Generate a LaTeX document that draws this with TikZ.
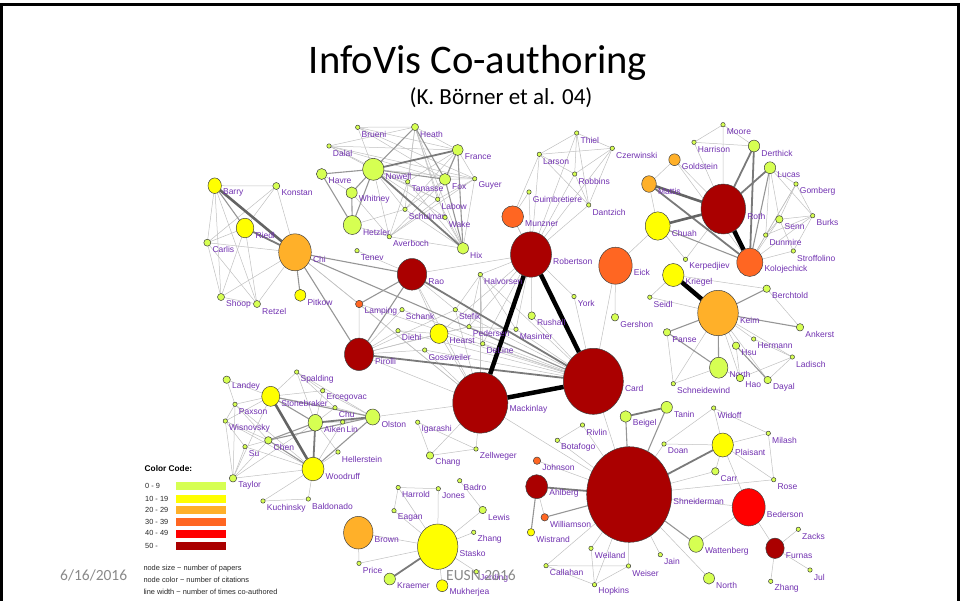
\documentclass[tikz,border=0pt]{standalone}
\usepackage{fontspec}
\setmainfont{Liberation Sans}
\newfontfamily\slidefont{Carlito}
\usetikzlibrary{shapes.geometric,backgrounds}

\definecolor{cLG}{RGB}{214,255,82}
\definecolor{cY}{RGB}{255,255,0}
\definecolor{cO}{RGB}{255,176,41}
\definecolor{cDO}{RGB}{255,102,34}
\definecolor{cR}{RGB}{255,0,0}
\definecolor{cDR}{RGB}{170,0,0}
\definecolor{labcol}{RGB}{112,48,176}
\definecolor{eA}{RGB}{192,192,192}
\definecolor{eB}{RGB}{150,150,150}
\definecolor{eC}{RGB}{122,122,122}
\definecolor{eD}{RGB}{100,100,100}
\definecolor{footgray}{RGB}{137,137,137}

\tikzset{
  anode/.style={ellipse, draw=black!75, line width=0.5pt, inner sep=0pt, outer sep=0pt},
  alab/.style={anchor=west, inner sep=0pt, text=labcol, font=\fontsize{8.5}{10}\selectfont},
  ea/.style={draw=eA, line width=0.5pt},
  eb/.style={draw=eB, line width=1.1pt},
  ec/.style={draw=eC, line width=1.8pt},
  ed/.style={draw=eD, line width=2.6pt},
  ee/.style={draw=black, line width=4.5pt},
  legbar/.style={draw=white, line width=0.6pt, minimum width=51pt, minimum height=9pt, inner sep=0pt},
  legtxt/.style={anchor=west, inner sep=0pt, text=black!85, font=\fontsize{7.4}{9}\selectfont},
}

% author node: name, x, y, rx, ry, colour, label
\newcommand\au[7]{%
  \node[anode, fill=#6, minimum width=#4*2pt, minimum height=#5*2pt] (#1) at (#2,#3) {};
  \node[alab] (#1-l) at ([xshift=#4pt+1.5pt, yshift=-7pt]#1.center) {#7};
}
% tiny author node (one or two papers)
\newcommand\tinyau[4]{\au{#1}{#2}{#3}{2.2}{2.2}{cLG}{#4}}

\begin{document}
\begin{tikzpicture}[x=1pt,y=-1pt]
\useasboundingbox (0,0) rectangle (961,600);
\draw[line width=2.7pt] (1.4,602) -- (1.4,4.7) -- (958.7,4.7) -- (958.7,602);

% titles
\node[font=\slidefont\fontsize{40.6}{48}\selectfont, anchor=base, inner sep=0pt] (title) at (478,73) {InfoVis Co-authoring};
\node[font=\slidefont\fontsize{23}{28}\selectfont, anchor=base, inner sep=0pt] (subtitle) at (501,104) {(K. Börner et al. 04)};

% ---- cluster around Nowell
\tinyau{brueni}{357.7}{127.3}{Brueni}
\au{heath}{415}{127}{3.5}{3.5}{cLG}{Heath}
\tinyau{dalal}{329}{146}{Dalal}
\au{france}{457.7}{150}{5.5}{5.5}{cLG}{France}
\au{nowell}{373.3}{169.3}{10.7}{11}{cLG}{Nowell}
\au{havre}{321.7}{174}{5.3}{5.5}{cLG}{Havre}
\au{fox}{445}{179.3}{5.5}{5.8}{cLG}{Fox}
\tinyau{guyer}{474.7}{178.7}{Guyer}
\tinyau{tanasse}{407.7}{181.7}{Tanasse}
\au{whitney}{351.7}{192.7}{5.5}{5.8}{cLG}{Whitney}
\tinyau{labow}{437.7}{199.3}{Labow}
\tinyau{schulman}{405}{209.3}{Schulman}
\tinyau{wake}{445}{217.3}{Wake}
\au{hetzler}{352.3}{225}{9}{9.5}{cLG}{Hetzler}
\tinyau{averboch}{389.3}{236.7}{Averboch}
\au{hix}{463}{248.3}{5.5}{5.8}{cLG}{Hix}
\tinyau{tenev}{357}{250.7}{Tenev}

% ---- cluster around Chi
\au{barry}{214.7}{185.7}{6.7}{7.8}{cY}{Barry}
\au{konstan}{276.3}{186}{3.5}{3.5}{cLG}{Konstan}
\au{riedl}{245}{228}{8.8}{9.8}{cY}{Riedl}
\au{carlis}{207.3}{242.7}{3.5}{3.5}{cLG}{Carlis}
\au{chi}{295}{252.3}{16.3}{18.5}{cO}{Chi}
\au{pitkow}{300.3}{295.3}{5.5}{6}{cY}{Pitkow}
\au{shoop}{221}{297}{3.5}{3.5}{cLG}{Shoop}
\au{retzel}{257}{304}{3.5}{3.5}{cLG}{Retzel}

% ---- central PARC cluster
\au{rao}{412}{274.3}{14.7}{15.8}{cDR}{Rao}
\tinyau{halvorsen}{480.3}{274.5}{Halvorsen}
\au{robertson}{531}{254.5}{20.5}{22.7}{cDR}{Robertson}
\au{munzner}{512.7}{216.7}{10.8}{10.8}{cDO}{Munzner}
\au{eick}{615.5}{265.7}{16.7}{18.5}{cDO}{Eick}
\tinyau{york}{574}{296.5}{York}
\au{lamping}{359.2}{304}{3.7}{3.7}{cDO}{Lamping}
\tinyau{schank}{402}{309.7}{Schank}
\tinyau{stefik}{455.3}{309.7}{Stefik}
\au{rushall}{531.7}{315.7}{3.7}{3.9}{cLG}{Rushall}
\au{gershon}{615}{317.3}{3.7}{3.7}{cLG}{Gershon}
\tinyau{pedersen}{469}{326.7}{Pedersen}
\tinyau{masinter}{516}{329.3}{Masinter}
\tinyau{diehl}{398}{330.7}{Diehl}
\au{hearst}{439}{333.7}{9}{9.7}{cY}{Hearst}
\tinyau{deline}{482.7}{343.7}{DeLine}
\tinyau{gossweiler}{424.7}{350}{Gossweiler}
\au{pirolli}{359}{354.3}{14.5}{16.2}{cDR}{Pirolli}
\au{mackinlay}{480.3}{402.7}{27.5}{30.5}{cDR}{Mackinlay}
\au{card}{593.3}{381.3}{30}{33}{cDR}{Card}
\au{olston}{372.7}{417}{7.2}{8}{cLG}{Olston}
\tinyau{igarashi}{417.7}{422.2}{Igarashi}
\tinyau{rivlin}{582.5}{425}{Rivlin}

% ---- Microsoft group
\tinyau{thiel}{576.7}{133}{Thiel}
\tinyau{larson}{539.3}{154.3}{Larson}
\tinyau{czerwinski}{612.3}{148.3}{Czerwinski}
\tinyau{robbins}{574.7}{174}{Robbins}
\tinyau{guimbretiere}{529}{192}{Guimbretiere}
\tinyau{dantzich}{588.7}{205}{Dantzich}

% ---- cluster around Roth
\tinyau{moore}{723}{124.7}{Moore}
\tinyau{harrison}{694}{142.3}{Harrison}
\au{derthick}{754}{146}{5.7}{5.9}{cLG}{Derthick}
\au{goldstein}{674.5}{159.7}{5.7}{5.9}{cO}{Goldstein}
\au{lucas}{770}{167.7}{5.7}{5.9}{cLG}{Lucas}
\tinyau{gomberg}{796}{184}{Gomberg}
\au{mattis}{649}{184}{7.3}{8.3}{cO}{Mattis}
\au{roth}{723.3}{209}{22.3}{25}{cDR}{Roth}
\tinyau{burks}{812.7}{215.7}{Burks}
\au{senn}{779.3}{219.3}{3.7}{3.7}{cLG}{Senn}
\au{chuah}{657.7}{226}{12.4}{14.2}{cY}{Chuah}
\tinyau{dunmire}{765.7}{235}{Dunmire}
\tinyau{stroffolino}{793.3}{251}{Stroffolino}
\au{kolojechick}{749.8}{262.3}{13}{14.2}{cDO}{Kolojechick}
\tinyau{kerpedjiev}{685.5}{259.3}{Kerpedjiev}

% ---- cluster around Keim
\au{kriegel}{673.3}{275}{10.7}{11.5}{cY}{Kriegel}
\tinyau{seidl}{649.8}{297.2}{Seidl}
\au{berchtold}{766.7}{288.7}{3.7}{3.7}{cLG}{Berchtold}
\au{keim}{718}{313}{20.3}{22.7}{cO}{Keim}
\au{ankerst}{800}{327.3}{3.7}{3.7}{cLG}{Ankerst}
\au{panse}{667}{332.3}{3.7}{3.7}{cLG}{Panse}
\tinyau{hermann}{753.7}{339}{Hermann}
\au{hsu}{736}{345.7}{3.7}{3.7}{cLG}{Hsu}
\tinyau{ladisch}{792.3}{357}{Ladisch}
\au{neuwirth}{718.7}{367.7}{9.2}{10.5}{cLG}{North}
\au{hao}{740}{378}{3.7}{3.7}{cLG}{Hao}
\au{dayal}{767.7}{380}{3.7}{3.7}{cLG}{Dayal}
\tinyau{schneidewind}{673.3}{383.7}{Schneidewind}

% ---- Berkeley group
\tinyau{spalding}{296.7}{372}{Spalding}
\au{landey}{226.7}{379.7}{3.7}{3.7}{cLG}{Landey}
\au{stonebraker}{270.7}{396.3}{9}{10}{cY}{Stonebraker}
\tinyau{ercegovac}{322.7}{390.7}{Ercegovac}
\tinyau{paxson}{235}{404.3}{Paxson}
\tinyau{chu}{335}{407.7}{Chu}
\au{aiken}{315.3}{422.7}{7.2}{8.3}{cLG}{Aiken}
\tinyau{lin}{342.7}{422}{Lin}
\tinyau{wisnovsky}{225.3}{421}{Wisnovsky}
\au{chen}{268.3}{440.3}{3.7}{3.7}{cLG}{Chen}
\tinyau{su}{245}{446.7}{Su}
\tinyau{hellerstein}{338}{452}{Hellerstein}
\au{woodruff}{313}{469}{11}{11.8}{cY}{Woodruff}
\au{taylor}{233}{478.3}{3.7}{3.7}{cLG}{Taylor}
\tinyau{kuchinsky}{263}{501}{Kuchinsky}
\tinyau{baldonado}{308.3}{499}{Baldonado}

% ---- lower middle
\tinyau{zellweger}{476}{449}{Zellweger}
\au{chang}{430}{455.5}{3.7}{3.7}{cLG}{Chang}
\tinyau{botafogo}{557.3}{440.3}{Botafogo}
\au{johnson}{537}{460.7}{3.7}{3.7}{cDO}{Johnson}
\au{ahlberg}{536.7}{486.7}{11}{12}{cDR}{Ahlberg}
\au{williamson}{544.7}{517.3}{3.7}{3.7}{cDO}{Williamson}
\au{wistrand}{531}{532.3}{3.7}{3.7}{cY}{Wistrand}
\tinyau{harrold}{398.2}{487.5}{Harrold}
\tinyau{jones}{438.3}{488.7}{Jones}
\tinyau{badro}{459.7}{480.7}{Badro}
\tinyau{eagan}{394}{510.7}{Eagan}
\au{lewis}{482.7}{510}{3.7}{3.7}{cLG}{Lewis}
\tinyau{zhangs}{473.7}{532.3}{Zhang}
\au{brown}{358.3}{532.7}{14.7}{16.3}{cO}{Brown}
\au{stasko}{437.7}{546.7}{20.2}{22.7}{cY}{Stasko}
\tinyau{price}{359}{563.3}{Price}
\au{kraemer}{389.7}{579}{5.7}{5.9}{cLG}{Kraemer}
\au{mukherjea}{442.2}{585.7}{5.7}{5.9}{cY}{Mukherjea}
\tinyau{jerding}{476.3}{571.7}{Jerding}

% ---- cluster around Shneiderman
\au{tanin}{666.7}{407.3}{5.7}{5.9}{cLG}{Tanin}
\au{beigel}{625.7}{416.5}{5.5}{5.8}{cLG}{Beigel}
\tinyau{widoff}{713.7}{408}{Widoff}
\tinyau{milash}{768.3}{433.3}{Milash}
\tinyau{doan}{664}{444}{Doan}
\au{plaisant}{722.7}{445}{10.7}{12}{cY}{Plaisant}
\au{carr}{715.3}{471.3}{3.7}{3.7}{cLG}{Carr}
\tinyau{rose}{773.7}{479.7}{Rose}
\au{shneiderman}{629.2}{494.5}{42.5}{47.8}{cDR}{Shneiderman}
\au{bederson}{748.7}{507.3}{16.5}{18.7}{cR}{Bederson}
\tinyau{zacks}{798.3}{529.3}{Zacks}
\au{wattenberg}{696}{544}{7.3}{8.3}{cLG}{Wattenberg}
\au{furnas}{775}{548.3}{9.2}{10.2}{cDR}{Furnas}
\tinyau{weiland}{591}{548.3}{Weiland}
\tinyau{jain}{660.3}{554.7}{Jain}
\tinyau{jul}{810}{570}{Jul}
\tinyau{callahan}{546}{565.7}{Callahan}
\tinyau{weiser}{628.5}{566}{Weiser}
\au{north}{709}{578.3}{5.5}{5.8}{cLG}{North}
\tinyau{zhangf}{770.7}{581.3}{Zhang}
\tinyau{hopkins}{594.5}{584.7}{Hopkins}

% ---- co-authorship links, kept under the nodes
\begin{pgfonlayer}{background}
\foreach \a/\b in {
  brueni/heath, brueni/france, brueni/fox, brueni/guyer, brueni/nowell,
  dalal/heath, dalal/france, dalal/fox, dalal/nowell, dalal/guyer, dalal/labow,
  heath/france, heath/tanasse, heath/labow, heath/hix, heath/wake, heath/schulman,
  nowell/tanasse, nowell/guyer, nowell/labow, nowell/schulman, nowell/averboch, nowell/wake,
  france/guyer, france/tanasse, france/schulman, france/labow,
  fox/guyer, fox/averboch, fox/schulman, guyer/hix, guyer/labow, guyer/averboch,
  tanasse/hix, labow/hix, wake/hix, schulman/hix, averboch/hix, averboch/tanasse,
  averboch/labow, hetzler/averboch, hetzler/schulman, whitney/averboch, havre/whitney,
  tenev/rao,
  barry/konstan, barry/carlis, barry/shoop, barry/retzel, konstan/riedl, konstan/chi,
  konstan/carlis, riedl/carlis, riedl/shoop, riedl/retzel, carlis/chi, carlis/shoop,
  carlis/retzel, chi/shoop, chi/retzel, shoop/retzel, chi/lamping, chi/mackinlay,
  lamping/pirolli, lamping/card, lamping/mackinlay, pirolli/schank, pirolli/stefik,
  pirolli/hearst, pirolli/diehl, pirolli/gossweiler, pirolli/mackinlay, pirolli/pedersen,
  rao/stefik, rao/hearst, rao/mackinlay, rao/robertson, schank/card, stefik/card,
  stefik/mackinlay, halvorsen/card, halvorsen/mackinlay, halvorsen/robertson,
  halvorsen/pedersen, halvorsen/masinter, halvorsen/stefik, halvorsen/deline,
  pedersen/card, pedersen/hearst, pedersen/masinter, pedersen/robertson, hearst/card,
  hearst/mackinlay, hearst/robertson, diehl/card, diehl/hearst, gossweiler/card,
  gossweiler/mackinlay, deline/robertson, deline/card, masinter/card, masinter/robertson,
  rushall/card, rushall/robertson, york/robertson, york/card, munzner/robertson,
  munzner/card, eick/gershon, eick/card, eick/chuah,
  guimbretiere/robertson, guimbretiere/munzner, larson/robertson, thiel/robertson,
  robbins/robertson, dantzich/robertson, czerwinski/robertson, larson/munzner,
  larson/thiel, larson/czerwinski, larson/robbins, larson/dantzich, thiel/czerwinski,
  thiel/robbins, thiel/dantzich, czerwinski/robbins, czerwinski/dantzich, robbins/dantzich,
  mackinlay/olston, mackinlay/chang, mackinlay/zellweger, mackinlay/shneiderman,
  card/shneiderman,
  moore/harrison, moore/derthick, moore/roth, harrison/derthick, harrison/roth,
  goldstein/mattis, goldstein/roth, goldstein/kolojechick, lucas/senn, lucas/dunmire,
  lucas/burks, lucas/gomberg, gomberg/senn, gomberg/dunmire, gomberg/burks,
  gomberg/kolojechick, burks/senn, burks/dunmire, burks/kolojechick, senn/dunmire,
  senn/kolojechick, dunmire/kolojechick, stroffolino/kolojechick, stroffolino/burks,
  stroffolino/senn, mattis/chuah, chuah/kerpedjiev, roth/kerpedjiev,
  kriegel/seidl, kriegel/berchtold, keim/seidl, keim/hermann, keim/hsu, keim/hao,
  keim/dayal, keim/ladisch, keim/schneidewind, berchtold/ankerst, panse/schneidewind,
  neuwirth/schneidewind, neuwirth/hao, hsu/hao, ladisch/hao, ladisch/dayal, ladisch/hermann,
  spalding/stonebraker, spalding/ercegovac, spalding/chu, spalding/olston, spalding/aiken,
  ercegovac/stonebraker, ercegovac/olston, ercegovac/aiken, chu/aiken, chu/olston,
  chu/stonebraker, lin/aiken, lin/olston, lin/woodruff, paxson/stonebraker, paxson/taylor,
  paxson/woodruff, paxson/wisnovsky, paxson/chen, wisnovsky/taylor, wisnovsky/chen,
  wisnovsky/woodruff, wisnovsky/stonebraker, su/taylor, su/chen, su/woodruff,
  su/wisnovsky, chen/taylor, taylor/woodruff, taylor/aiken, taylor/stonebraker,
  hellerstein/woodruff, hellerstein/aiken, kuchinsky/woodruff, kuchinsky/baldonado,
  baldonado/woodruff, landey/stonebraker, landey/paxson,
  igarashi/chang, igarashi/zellweger, chang/zellweger,
  rivlin/botafogo, rivlin/shneiderman, botafogo/shneiderman, johnson/shneiderman,
  ahlberg/williamson,
  harrold/eagan, harrold/stasko, harrold/jones, jones/stasko, eagan/stasko, badro/lewis,
  lewis/stasko, zhangs/stasko, brown/stasko, brown/price, price/stasko,
  mukherjea/stasko, jerding/stasko,
  shneiderman/doan, shneiderman/carr, shneiderman/rose, shneiderman/bederson,
  shneiderman/north, shneiderman/jain, shneiderman/weiland, shneiderman/weiser,
  shneiderman/hopkins, shneiderman/callahan,
  plaisant/widoff, plaisant/milash, plaisant/rose, plaisant/doan, plaisant/carr,
  plaisant/bederson, widoff/milash, widoff/doan, milash/rose,
  bederson/wattenberg, bederson/furnas, furnas/zacks, furnas/jul, furnas/zhangf,
  weiser/hopkins, weiser/callahan, weiland/hopkins, callahan/hopkins}
  \draw[ea] (\a) -- (\b);
\foreach \a/\b in {
  heath/nowell, heath/fox, nowell/havre, nowell/hetzler, nowell/whitney, nowell/fox,
  france/fox, france/hix, fox/hix, whitney/hetzler, havre/hetzler,
  barry/riedl, chi/pitkow, chi/card, chi/rao, chi/pirolli, rao/pirolli, rao/lamping,
  chuah/kolojechick, lucas/kolojechick,
  keim/berchtold, keim/ankerst, keim/panse, keim/neuwirth, hsu/dayal, panse/neuwirth,
  stonebraker/aiken, aiken/chen, woodruff/olston, woodruff/chen, stonebraker/olston,
  chen/olston,
  williamson/shneiderman, ahlberg/wistrand, shneiderman/wattenberg,
  shneiderman/beigel, shneiderman/tanin}
  \draw[eb] (\a) -- (\b);
\foreach \a/\b in {
  nowell/france, nowell/hix, riedl/chi, rao/card, pirolli/card,
  derthick/roth, lucas/roth, mattis/kolojechick, derthick/kolojechick,
  aiken/woodruff, aiken/olston, kraemer/stasko, beigel/tanin,
  shneiderman/plaisant, shneiderman/ahlberg}
  \draw[ec] (\a) -- (\b);
\foreach \a/\b in {barry/chi, mattis/roth, roth/chuah, stonebraker/woodruff}
  \draw[ed] (\a) -- (\b);
\foreach \a/\b in {robertson/mackinlay, robertson/card, mackinlay/card,
  roth/kolojechick, kriegel/keim}
  \draw[ee] (\a) -- (\b);
\end{pgfonlayer}

% ---- legend
\node[anchor=west, inner sep=0pt, font=\bfseries\fontsize{8.3}{10}\selectfont] (cc) at (144.5,469) {Color Code:};
\foreach \i/\col/\txt/\yy in {0/cLG/0 - 9/486.2, 1/cY/10 - 19/498.5, 2/cO/20 - 29/510,
  3/cDO/30 - 39/521.6, 4/cR/40 - 49/533.4, 5/cDR/50 -/545.5} {
  \node[legbar, fill=\col] (bar\i) at (200.5,\yy) {};
  \node[legtxt] (bartxt\i) at (145,\yy) {\txt};
}
\node[legtxt] (note1) at (143.3,568.3) {node size \textasciitilde{} number of papers};
\node[legtxt] (note2) at (143.3,580) {node color \textasciitilde{} number of citations};
\node[legtxt] (note3) at (143.3,591.7) {line width \textasciitilde{} number of times co-authored};

% ---- footer
\node[font=\slidefont\fontsize{15.5}{18}\selectfont, text=footgray, inner sep=0pt] (date) at (93.7,575) {6/16/2016};
\node[font=\slidefont\fontsize{15.5}{18}\selectfont, text=footgray, anchor=west, inner sep=0pt] (conf) at (446,575.5) {EUSN 2016};
\end{tikzpicture}
\end{document}
